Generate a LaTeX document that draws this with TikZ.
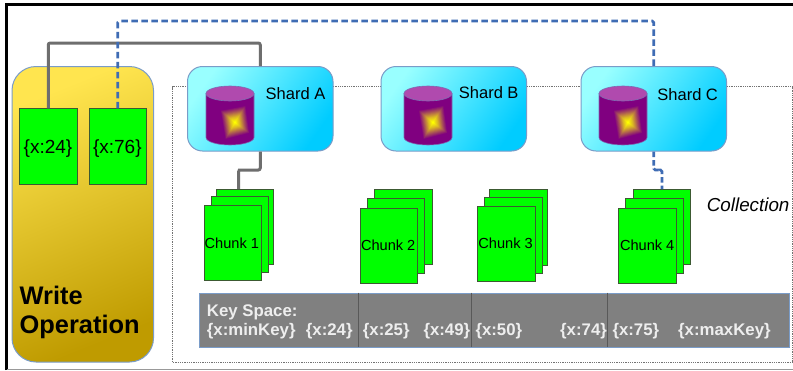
\documentclass[tikz,border=0pt]{standalone}
\usepackage{fontspec}
\setmainfont{Liberation Sans}
\definecolor{grn}{HTML}{00FF00}
\definecolor{grnedge}{HTML}{3C5A32}
\definecolor{edgeblue}{HTML}{7A9CC8}
\definecolor{pur}{HTML}{800080}
\definecolor{purtop}{HTML}{B04AAE}
\definecolor{conngray}{HTML}{6E6E6E}
\definecolor{connblue}{HTML}{3F6CB4}
\definecolor{barg}{HTML}{808080}
\definecolor{bartxt}{HTML}{EEEEEE}
\definecolor{shardlight}{HTML}{99FFFF}
\definecolor{sharddmid}{HTML}{4DE6FF}
\definecolor{sharddark}{HTML}{00CCFF}
\definecolor{wlight}{HTML}{FFE54F}
\definecolor{wmid}{HTML}{DFC028}
\definecolor{wdark}{HTML}{BF9B00}
\tikzset{
  greenbox/.style={draw=grnedge,line width=0.9pt,fill=grn,inner sep=0pt,minimum width=57.5pt,minimum height=75.5pt},
  shardbox/.style={draw=edgeblue,line width=1pt,rounded corners=15pt,inner sep=0pt,minimum width=145.5pt,minimum height=84.5pt,
     top color=shardlight,bottom color=sharddark,middle color=sharddmid,shading angle=55},
  writebox/.style={draw=edgeblue,line width=1pt,rounded corners=24pt,inner sep=0pt,minimum width=141.5pt,minimum height=295.5pt,
     top color=wlight,bottom color=wdark,middle color=wmid,shading angle=22},
  graylink/.style={draw=conngray,line width=3pt,rounded corners=2pt},
  bluelink/.style={draw=connblue,line width=2.8pt,rounded corners=1.5pt,dash pattern=on 6.5pt off 3.5pt},
  lab/.style={anchor=base west,inner sep=0pt,text=black},
  shardlab/.style={lab,font=\fontsize{16.5}{18}\selectfont},
  keylab/.style={lab,font=\fontsize{19}{21}\selectfont},
  chunklab/.style={lab,font=\fontsize{14.6}{16}\selectfont},
  barlab/.style={anchor=base west,inner sep=0pt,text=bartxt,font=\fontsize{16.8}{18}\selectfont\bfseries},
  divider/.style={draw=black!65,line width=1.2pt},
}
\newcommand{\dbicon}[1]{%
  \begin{scope}[shift={(#1,0)}]
    \fill[pur,draw=edgeblue!70!pur,line width=0.6pt] (0,93.5) -- (0,137.5) arc[start angle=180,end angle=360,x radius=24pt,y radius=7.5pt] -- (48,93.5) -- cycle;
    \foreach \i in {0,...,15}{
      \pgfmathsetmacro{\s}{1-\i/16}
      \pgfmathsetmacro{\t}{min(1,(\i/10))*0.72+max(0,(\i-10)/5)*0.28}
      \pgfmathsetmacro{\qr}{0.5+0.5*\t}
      \pgfmathsetmacro{\qg}{\t}
      \pgfmathsetmacro{\qb}{0.5*(1-\t)}
      \definecolor{qc}{rgb}{\qr,\qg,\qb}
      \fill[qc] ({29+\s*(11)},{122.5+\s*(-17.5)}) -- ({29+\s*(-15)},{122.5+\s*(-12.5)}) -- ({29+\s*(-10)},{122.5+\s*(17.5)}) -- ({29+\s*(15)},{122.5+\s*(11)}) -- cycle;
    }
    \fill[purtop,draw=edgeblue!70!pur,line width=0.6pt] (24,93.5) ellipse[x radius=24pt,y radius=7.5pt];
  \end{scope}}
\begin{document}
\begin{tikzpicture}[x=1pt,y=-1pt]
\useasboundingbox (0,0) rectangle (793,370);
\fill[white] (0,0) rectangle (793,370);
% frame
\draw[black,line width=2.4pt] (6.3,370) -- (6.3,4.4) -- (793,4.4);
\draw[black!40,line width=1pt] (7,369) -- (793,369);
% collection area
\draw[black!55,line width=0.8pt,dash pattern=on 0.9pt off 0.9pt] (172.7,362) rectangle (792.3,86.5);
% coordinates for connector bends
\coordinate (gtop) at (150,43);
\coordinate (btop) at (400,21);
\coordinate (abend) at (240,170);
\coordinate (cbend) at (660,170);
% write operation
\node[writebox] (write) at (82.75,214.25) {};
\node[greenbox] (w24) at (48.25,146.5) {};
\node[greenbox] (w76) at (117.75,146.5) {};
% shards
\node[shardbox] (shardA) at (260.25,108.75) {};
\node[shardbox] (shardB) at (453.75,108.75) {};
\node[shardbox] (shardC) at (653.75,108.75) {};
% chunks
\node[greenbox] (c1c) at (244.75,227) {};
\node[greenbox] (c1b) at (239.75,234.5) {};
\node[greenbox] (c1a) at (232.75,243) {};
\node[greenbox] (c2c) at (403.25,227) {};
\node[greenbox] (c2b) at (395.75,236) {};
\node[greenbox] (c2a) at (388.75,246) {};
\node[greenbox] (c3c) at (518.25,227.5) {};
\node[greenbox] (c3b) at (513.25,235.25) {};
\node[greenbox] (c3a) at (506.25,243.75) {};
\node[greenbox] (c4c) at (661.75,227) {};
\node[greenbox] (c4b) at (654.25,236) {};
\node[greenbox] (c4a) at (647.5,246) {};
\coordinate (c1in) at (238.5,189);
\coordinate (c4in) at (662,189);
% connectors
\draw[graylink] (w24.north) |- (gtop) -| (shardA.north);
\draw[bluelink] (w76.north) |- (btop) -| (shardC.north);
\draw[graylink] (shardA.south) |- (abend) -| (c1in);
\draw[bluelink,dash pattern=on 5.5pt off 3pt] (shardC.south) |- (cbend) -| (c4in);
% database icons
\dbicon{206}
\dbicon{404}
\dbicon{599}
% key bar
\node[draw=edgeblue,line width=0.9pt,fill=barg,inner sep=0pt,minimum width=590pt,minimum height=54pt] (bar) at (494,320) {};
\coordinate (d1) at (358.5,320);
\coordinate (d2) at (471.5,320);
\coordinate (d3) at (607.5,320);
\draw[divider] (d1 |- bar.north) -- (d1 |- bar.south);
\draw[divider] (d2 |- bar.north) -- (d2 |- bar.south);
\draw[divider] (d3 |- bar.north) -- (d3 |- bar.south);
% labels
\node[lab,font=\fontsize{25.4}{29}\selectfont\bfseries] (t1) at (19.5,304) {Write};
\node[lab,font=\fontsize{25.4}{29}\selectfont\bfseries] (t2) at (19.5,333) {Operation};
\node[keylab] (k24) at (23.5,153) {\{x:24\}};
\node[keylab] (k76) at (92.8,153) {\{x:76\}};
\node[shardlab] (sa) at (265.5,99.3) {Shard A};
\node[shardlab] (sb) at (458.7,98.7) {Shard B};
\node[shardlab] (sc) at (657.2,100.7) {Shard C};
\node[chunklab] (l1) at (204.5,248) {Chunk 1};
\node[chunklab] (l2) at (360.8,250.7) {Chunk 2};
\node[chunklab] (l3) at (478.2,248.7) {Chunk 3};
\node[chunklab] (l4) at (619.8,250.7) {Chunk 4};
\node[lab,font=\fontsize{18.8}{20}\selectfont\itshape] (coll) at (706.7,211) {Collection};
\node[barlab] (b0) at (206.7,316.7) {Key Space:};
\node[barlab] (b1) at (206.7,335.5) {\{x:minKey\}};
\node[barlab] (b2) at (305.7,335.5) {\{x:24\}};
\node[barlab] (b3) at (362.7,335.5) {\{x:25\}};
\node[barlab] (b4) at (423.3,335.5) {\{x:49\}};
\node[barlab] (b5) at (475.3,335.5) {\{x:50\}};
\node[barlab] (b6) at (560,335.5) {\{x:74\}};
\node[barlab] (b7) at (612.3,335.5) {\{x:75\}};
\node[barlab] (b8) at (678,335.5) {\{x:maxKey\}};
\end{tikzpicture}
\end{document}
